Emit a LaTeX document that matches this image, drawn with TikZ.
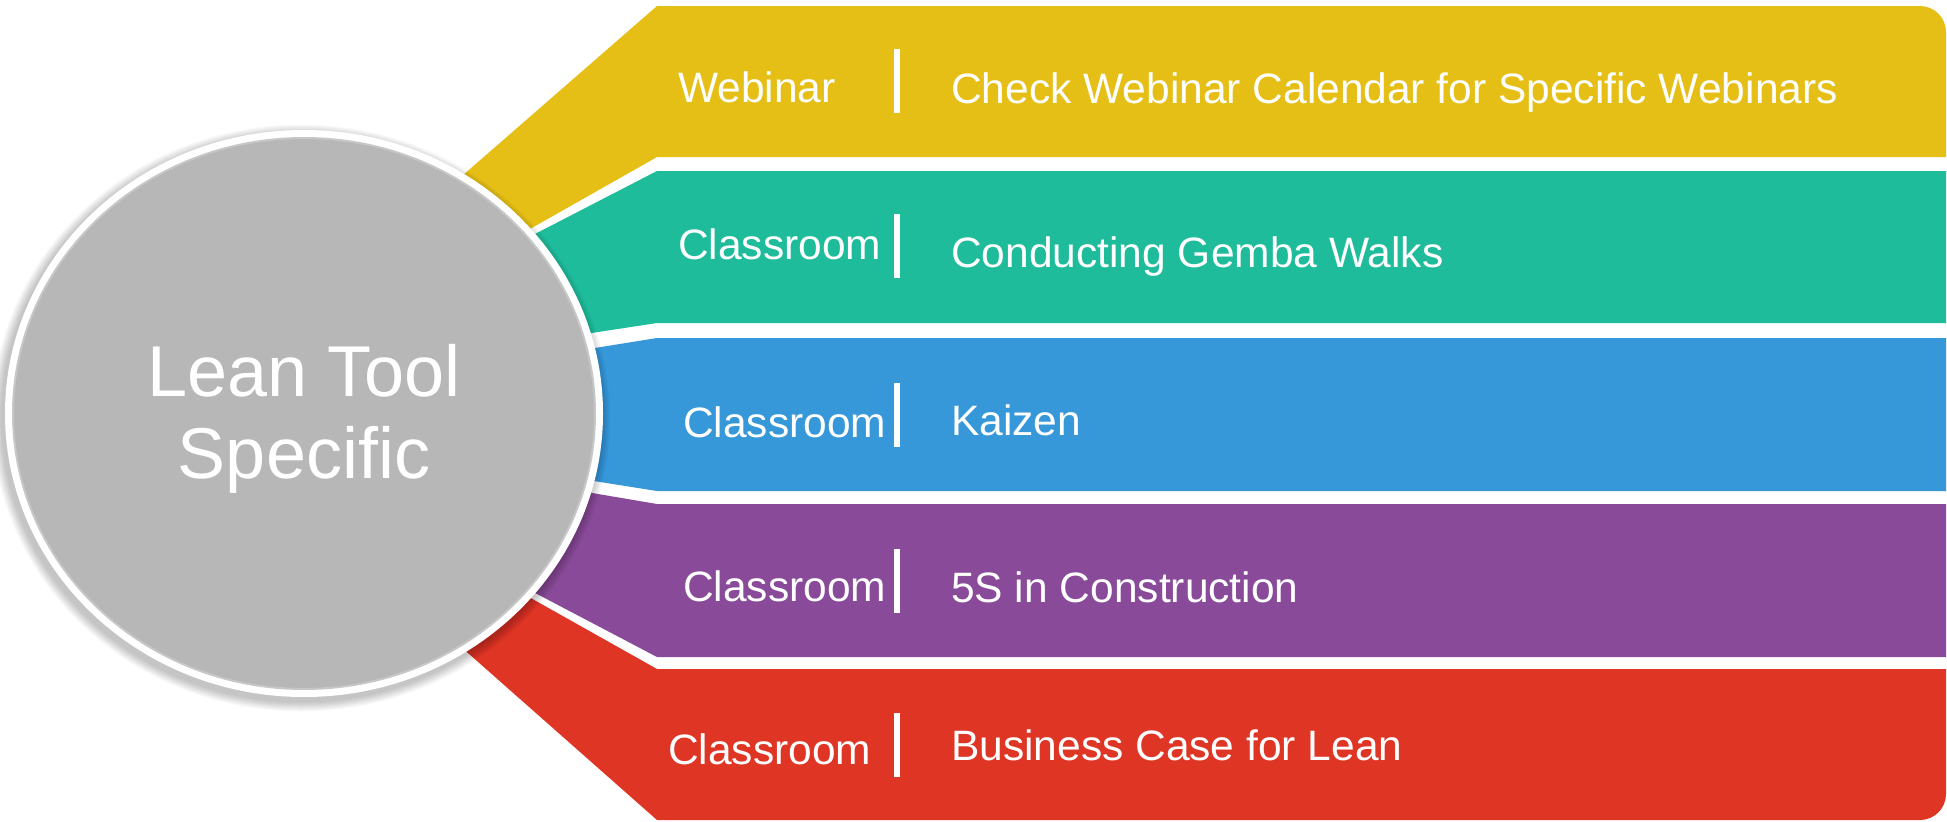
\documentclass[tikz,border=0pt]{standalone}
\usepackage{fontspec}
\setmainfont{Liberation Sans}
\usetikzlibrary{shapes.geometric}
\definecolor{cyel}{HTML}{E5BF15}
\definecolor{cteal}{HTML}{1EBC9B}
\definecolor{cblue}{HTML}{3697D9}
\definecolor{cpurp}{HTML}{8A4A9A}
\definecolor{cred}{HTML}{DF3524}
\definecolor{cgray}{HTML}{B7B7B7}
\begin{document}
\begin{tikzpicture}[x=1pt,y=-1pt,
  lbl/.style={text=white, font=\fontsize{42.5}{50}\selectfont, inner sep=0pt, anchor=base west},
  hubtxt/.style={text=white, font=\fontsize{72}{82}\selectfont, inner sep=0pt, anchor=base},
  sepbar/.style={fill=white, draw=none, inner sep=0pt, minimum width=5.5pt, minimum height=64pt}]
\useasboundingbox (0,0) rectangle (1947,822);
\fill[white] (0,0) rectangle (1947,822);
% bands
\fill[cyel] (400,230) -- (657,6) -- (1920,6) arc[start angle=90, end angle=0, radius=26pt] -- (1946,157) -- (657,157) -- (440,280) -- cycle;
\fill[cteal] (440,283) -- (657,171) -- (1946,171) -- (1946,323) -- (657,323) -- (480,350) -- cycle;
\fill[cblue] (480,366.5) -- (657,338) -- (1946,338) -- (1946,491) -- (657,491) -- (480,463) -- cycle;
\fill[cpurp] (480,474) -- (657,504) -- (1946,504) -- (1946,657) -- (657,657) -- (440,543) -- cycle;
\fill[cred] (440,547) -- (657,669) -- (1946,669) -- (1946,794) arc[start angle=0, end angle=-90, radius=26pt] -- (657,820) -- (400,593) -- cycle;
% shadow of hub
\foreach \i in {1,...,10}
  \fill[black, opacity=0.025] (301,418) ellipse [x radius={299pt+\i pt}, y radius={283.5pt+\i pt}];
\node[ellipse, fill=white, draw=none, minimum width=598pt, minimum height=567pt, inner sep=0pt] (hubring) at (304,413.5) {};
\node[ellipse, fill=cgray, draw=black!22, line width=2pt, minimum width=582pt, minimum height=551pt, inner sep=0pt] (hub) at (304,413.5) {};
\node[hubtxt] (hubA) at (304,396) {Lean Tool};
\node[hubtxt] (hubB) at (304,478) {Specific};
% separators
\node[sepbar] (bar1) at (897,81) {};
\node[sepbar] (bar2) at (897,246) {};
\node[sepbar] (bar3) at (897,415) {};
\node[sepbar] (bar4) at (897,580.5) {};
\node[sepbar] (bar5) at (897,745) {};
% left labels
\node[lbl] (t1) at (678,102) {Webinar};
\node[lbl] (t2) at (678,259) {Classroom};
\node[lbl] (t3) at (683,437) {Classroom};
\node[lbl] (t4) at (683,601) {Classroom};
\node[lbl] (t5) at (668,764) {Classroom};
% right texts
\node[lbl] (d1) at (951,103) {Check Webinar Calendar for Specific Webinars};
\node[lbl] (d2) at (951,267) {Conducting Gemba Walks};
\node[lbl] (d3) at (951,435) {Kaizen};
\node[lbl] (d4) at (951,602) {5S in Construction};
\node[lbl] (d5) at (951,760) {Business Case for Lean};
\end{tikzpicture}
\end{document}
